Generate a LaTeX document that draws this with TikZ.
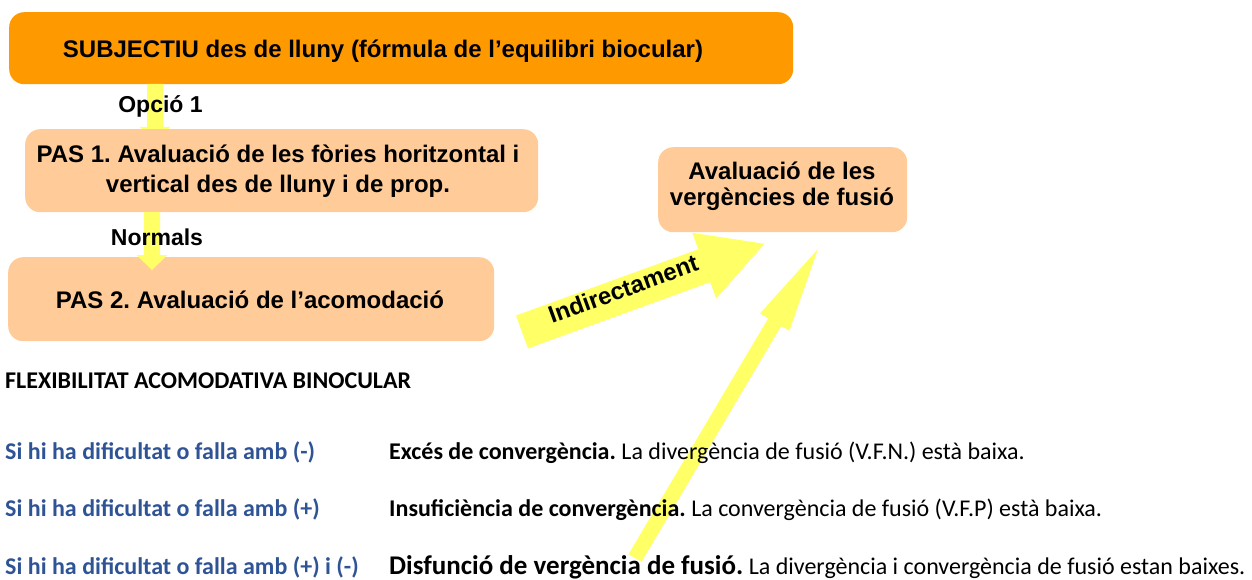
\documentclass[tikz,border=0pt]{standalone}
\usepackage{fontspec}
\setmainfont{Liberation Sans}
\newfontfamily\calibri{Carlito}
\usetikzlibrary{calc}
\frenchspacing
\definecolor{orangebox}{RGB}{255,153,0}
\definecolor{peach}{RGB}{255,204,153}
\definecolor{arrowyellow}{RGB}{255,255,102}
\definecolor{rowblue}{RGB}{47,84,150}
\tikzset{
  boxstyle/.style={rounded corners=15pt, inner sep=0pt, anchor=north west},
  topbox/.style={boxstyle, fill=orangebox},
  pasbox/.style={boxstyle, fill=peach},
  boxtext/.style={font=\fontsize{24}{29}\selectfont\bfseries, align=center, inner sep=0pt},
  lbl/.style={font=\fontsize{23}{27}\selectfont\bfseries, inner sep=0pt, anchor=base},
  rowtext/.style={font=\calibri\fontsize{24}{28}\selectfont, inner sep=0pt, anchor=base west},
  rowbold/.style={rowtext, font=\calibri\fontsize{24}{28}\selectfont\bfseries},
  arrowfill/.style={fill=arrowyellow}
}
% tail, tip, half shaft width, half head width, head length
\newcommand\blockarrow[5]{%
  \coordinate (ba-n) at ($(#2)!#5!(#1)$);
  \fill[arrowfill] ($(#1)!#3!90:(#2)$) -- ($(ba-n)!#3!-90:(#1)$) -- ($(ba-n)!#4!-90:(#1)$) -- (#2)
    -- ($(ba-n)!#4!90:(#1)$) -- ($(ba-n)!#3!90:(#1)$) -- ($(#1)!#3!-90:(#2)$) -- cycle;}
\begin{document}
\begin{tikzpicture}[x=1pt,y=-1pt]
\useasboundingbox (0,0) rectangle (1252,580);
% top box
\node[topbox, minimum width=784pt, minimum height=72pt] (top) at (9,12) {};
% arrow Opcio 1
\coordinate (a1tail) at (155,84);
\coordinate (a1tip) at (155,145);
\blockarrow{a1tail}{a1tip}{8pt}{15pt}{18pt}
% PAS boxes
\node[pasbox, minimum width=513pt, minimum height=83pt] (pas1) at (25,129) {};
\node[pasbox, minimum width=486pt, minimum height=84pt] (pas2) at (8,257) {};
% arrow Normals
\coordinate (a2tail) at (152,212);
\coordinate (a2tip) at (152,270);
\blockarrow{a2tail}{a2tip}{8pt}{15.5pt}{15pt}
% right box
\node[pasbox, minimum width=249pt, minimum height=85pt] (verg) at (658,147) {};
% Indirectament arrow
\coordinate (indtail) at (522,332);
\coordinate (indtip) at (764.4,243.8);
\blockarrow{indtail}{indtip}{17.5pt}{35pt}{64pt}
% long arrow
\coordinate (longtail) at (635,558);
\coordinate (longtip) at (818,249);
\blockarrow{longtail}{longtip}{7.5pt}{17pt}{85pt}
% texts
\node[boxtext, anchor=base] (toptext) at (383,58) {SUBJECTIU des de lluny (fórmula de l’equilibri biocular)};
\node[boxtext, anchor=north, font=\fontsize{24}{30}\selectfont\bfseries] (pas1text) at (278,144.5) {PAS 1. Avaluació de les fòries horitzontal i\\vertical des de lluny i de prop.};
\node[boxtext, anchor=base] (pas2text) at (250,308) {PAS 2. Avaluació de l’acomodació};
\node[boxtext, anchor=north, font=\fontsize{24}{26}\selectfont\bfseries] (vergtext) at (782,161.5) {Avaluació de les\\vergències de fusió};
\node[lbl] (opcio) at (160.5,113) {Opció 1};
\node[lbl] (normals) at (157,245) {Normals};
\node[font=\fontsize{24}{28}\selectfont\bfseries, inner sep=0pt, rotate=20] (indtext) at (623,289) {Indirectament};
% bottom text
\node[rowbold] (flex) at (5,388) {FLEXIBILITAT ACOMODATIVA BINOCULAR};
\node[rowbold, text=rowblue] (c1) at (5,459) {Si hi ha dificultat o falla amb (-)};
\node[rowbold, text=rowblue] (c2) at (5,516) {Si hi ha dificultat o falla amb (+)};
\node[rowbold, text=rowblue] (c3) at (5,574) {Si hi ha dificultat o falla amb (+) i (-)};
\node[rowtext] (r1) at (389,459) {\textbf{Excés de convergència.} La divergència de fusió (V.F.N.) està baixa.};
\node[rowtext] (r2) at (389,516) {\textbf{Insuficiència de convergència.} La convergència de fusió (V.F.P) està baixa.};
\node[rowtext] (r3) at (389,574) {{\fontsize{27}{30}\selectfont\bfseries Disfunció de vergència de fusió.} La divergència i convergència de fusió estan baixes.};
\end{tikzpicture}
\end{document}
